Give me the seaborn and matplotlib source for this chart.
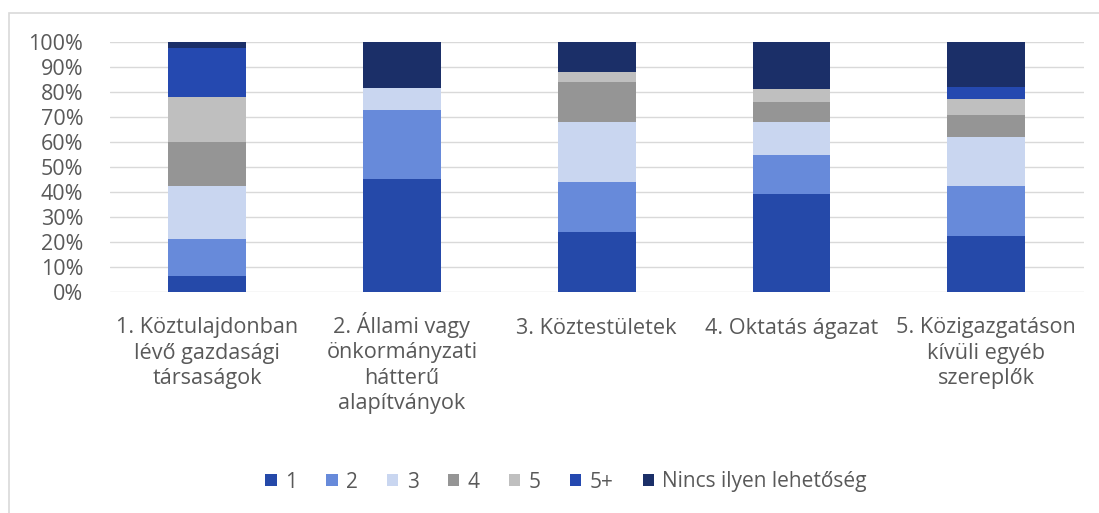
import matplotlib
matplotlib.use("Agg")
import matplotlib.pyplot as plt
from matplotlib.patches import Rectangle
from matplotlib.ticker import FuncFormatter, MultipleLocator
import seaborn as sns
import pandas as pd

# Categories (x axis)
categories = [
    "1. Köztulajdonban\nlévő gazdasági\ntársaságok",
    "2. Állami vagy\nönkormányzati\nhátterű\nalapítványok",
    "3. Köztestületek",
    "4. Oktatás ágazat",
    "5. Közigazgatáson\nkívüli egyéb\nszereplők",
]

# Stacked series (share of answers, %)
series_names = ["1", "2", "3", "4", "5", "5+", "Nincs ilyen lehetőség"]
s1 = [6.5, 45.5, 24.0, 39.2, 22.6]
s2 = [14.8, 27.3, 20.0, 15.9, 19.8]
s3 = [21.1, 9.1, 24.0, 12.9, 19.8]
s4 = [17.8, 0.0, 16.0, 8.3, 8.9]
s5 = [17.9, 0.0, 4.0, 5.1, 6.3]
s5plus = [19.5, 0.0, 0.0, 0.0, 4.6]
s_none = [2.4, 18.1, 12.0, 18.6, 18.0]

colors = ["#2549a9", "#678ada", "#c9d6f0", "#959595", "#bfbfbf", "#2549b0", "#1b2f68"]
text_color = "#595959"
grid_color = "#d9d9d9"

sns.set_theme(style="white")
plt.rcParams["font.family"] = ["Open Sans", "DejaVu Sans"]

fig = plt.figure(figsize=(10.99, 5.13), dpi=100)
ax = fig.add_axes([0.0997, 0.4302, 0.8864, 0.4873])

# outer chart frame
fig.add_artist(Rectangle((9 / 1099, -0.05), 1.1, 1 - 13 / 513 + 0.05,
                         transform=fig.transFigure, fill=False,
                         edgecolor=grid_color, linewidth=1.2))

values = [s1, s2, s3, s4, s5, s5plus, s_none]
bottoms = [0.0] * len(categories)
for name, vals, col in zip(series_names, values, colors):
    df = pd.DataFrame({"category": categories, "value": vals})
    sns.barplot(data=df, x="category", y="value", color=col, width=0.40,
                bottom=bottoms, label=name, ax=ax, linewidth=0,
                edgecolor="none", saturation=1, zorder=3)
    bottoms = [b + v for b, v in zip(bottoms, vals)]

handles, labels = ax.get_legend_handles_labels()
if ax.get_legend() is not None:
    ax.get_legend().remove()

ax.set_ylim(0, 100)
ax.set_xlim(-0.5, len(categories) - 0.5)
ax.yaxis.set_major_locator(MultipleLocator(10))
ax.yaxis.set_major_formatter(FuncFormatter(lambda v, _: f"{v:.0f}%"))
ax.grid(axis="y", color=grid_color, linewidth=1.0, zorder=0)
ax.grid(axis="x", visible=False)
ax.set_axisbelow(True)
for sp in ax.spines.values():
    sp.set_visible(False)
ax.set_xlabel("")
ax.set_ylabel("")
ax.tick_params(axis="y", length=0, pad=19, labelsize=15.5, labelcolor=text_color)
ax.tick_params(axis="x", length=0)

# category labels: first lines share a common baseline below the axis
ticks = ax.get_xticks()
ax.set_xticks(ticks)
ax.set_xticklabels([""] * len(ticks))
line_pitch = 18.0   # points between baselines
first_baseline = 30.0  # points below the axis
for xpos, name in zip(ticks, categories):
    n_lines = name.count("\n") + 1
    ax.annotate(name, xy=(xpos, 0), xycoords=("data", "axes fraction"),
                xytext=(0, -(first_baseline + line_pitch * (n_lines - 1))),
                textcoords="offset points", ha="center", va="baseline",
                multialignment="center", linespacing=1.27,
                fontsize=15.6, color=text_color, annotation_clip=False)

leg = fig.legend(handles, labels, loc="center", bbox_to_anchor=(566 / 1099, 1 - 482 / 513),
                 ncol=7, frameon=False, fontsize=15, handlelength=0.55,
                 handleheight=0.55, handletextpad=0.4, columnspacing=1.4)
for t in leg.get_texts():
    t.set_color(text_color)

fig.savefig("out.png", dpi=100, facecolor="white")
